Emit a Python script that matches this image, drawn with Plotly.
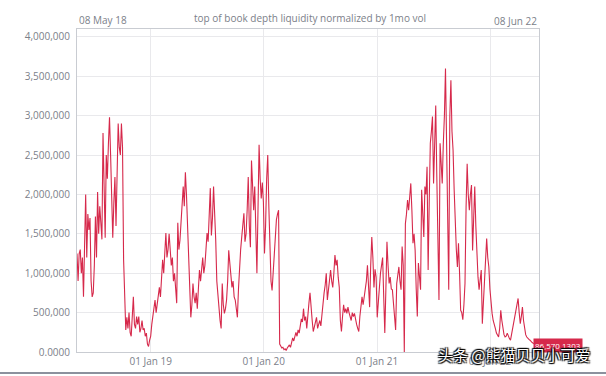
import pandas as pd
import plotly.graph_objects as go

# half-weekly samples (every 3.5 days) starting 2018-05-08
start_date = "2018-05-08"
step = "84h"

vals_2018 = [1250000, 900000, 1250000, 1300000, 1000000, 1200000, 700000, 1500000, 2000000, 1200000,
             1750000, 1550000, 1700000, 900000, 700000, 750000, 1100000, 1720000, 1200000, 2030000,
             1500000, 1850000, 1600000, 1430000, 2780000, 1900000, 1450000, 2500000, 2200000, 2650000,
             2980000, 2500000, 2100000, 1450000, 1900000, 2220000, 1600000, 2400000, 2900000, 2600000,
             2500000, 2900000, 2600000, 1170000, 700000, 280000, 440000, 300000, 500000, 250000,
             200000, 450000, 700000, 350000, 300000, 450000, 350000, 450000, 250000, 300000,
             400000, 280000, 300000, 200000, 240000, 100000, 70000, 150000]
vals_2019 = [200000, 350000, 450000, 550000, 660000, 500000, 600000, 750000, 820000, 700000,
             950000, 1170000, 1000000, 1300000, 1510000, 1200000, 1300000, 1500000, 1350000, 1100000,
             1200000, 900000, 1000000, 750000, 620000, 1640000, 1300000, 1420000, 1700000, 1900000,
             2100000, 1850000, 2280000, 2000000, 1600000, 1100000, 660000, 440000, 600000, 870000,
             700000, 620000, 750000, 550000, 800000, 1040000, 900000, 1100000, 1200000, 1000000,
             1100000, 1300000, 1510000, 1400000, 1700000, 2080000, 1480000, 1700000, 2100000, 1800000,
             1420000, 900000, 700000, 490000, 400000, 300000, 870000, 600000, 490000, 550000,
             660000, 900000, 1290000, 1130000, 1000000, 820000, 900000, 700000, 660000, 500000,
             440000, 800000, 1100000, 1300000, 1460000, 1600000, 1760000, 1400000, 1500000, 1800000,
             2220000, 1600000, 1330000, 2430000, 2000000, 1800000, 2100000, 1500000, 1000000, 1800000,
             2630000, 2200000, 1950000, 2150000, 1900000]
vals_2020 = [1250000, 1600000, 2200000, 2500000, 1850000, 1300000, 900000, 780000, 1000000, 1250000,
             1500000, 1680000, 1750000, 1800000, 100000, 70000, 50000, 60000, 30000, 40000,
             20000, 50000, 70000, 90000, 60000, 120000, 180000, 140000, 220000, 250000,
             200000, 280000, 240000, 320000, 420000, 380000, 550000, 400000, 450000, 300000,
             500000, 620000, 750000, 500000, 400000, 260000, 350000, 380000, 440000, 300000,
             350000, 400000, 330000, 500000, 600000, 750000, 850000, 1000000, 660000, 800000,
             900000, 1040000, 900000, 820000, 1000000, 1230000, 1100000, 1170000, 950000, 820000,
             400000, 260000, 450000, 600000, 500000, 550000, 490000, 570000, 500000, 450000,
             400000, 500000, 450000, 490000, 400000, 350000, 300000, 260000, 450000, 600000,
             700000, 600000, 700000, 800000, 900000, 1100000, 800000, 570000, 1100000, 1460000,
             1200000, 820000, 1050000, 950000]
vals_2021 = [440000, 660000, 870000, 1000000, 1100000, 1200000, 700000, 240000, 800000, 1400000,
             1100000, 870000, 950000, 800000, 790000, 600000, 400000, 280000, 870000, 950000,
             1080000, 900000, 790000, 1340000, 1100000, 0, 1630000, 1750000, 1930000, 1800000,
             2060000, 2140000, 1800000, 1380000, 1500000, 1290000, 800000, 450000, 1130000, 900000,
             790000, 2060000, 1700000, 1460000, 2100000, 2000000, 2350000, 1040000, 1900000, 2650000,
             2800000, 2990000, 2140000, 2800000, 3130000, 2220000, 1500000, 660000, 2650000, 2400000,
             2140000, 2650000, 3000000, 3600000, 2560000, 1500000, 790000, 2990000, 3450000, 2800000,
             2560000, 2060000, 1500000, 1300000, 1080000, 1380000, 1000000, 530000, 500000, 410000,
             600000, 870000, 1840000, 2390000, 2000000, 1800000, 2000000, 2120000, 1290000, 1700000,
             2100000, 1600000, 1210000, 950000, 790000, 900000, 1040000, 360000, 600000, 870000,
             1100000, 1440000, 1200000, 1080000, 800000]
vals_2022 = [600000, 490000, 400000, 360000, 300000, 240000, 220000, 190000, 300000, 530000,
             400000, 280000, 220000, 190000, 200000, 240000, 200000, 170000, 150000, 220000,
             320000, 380000, 450000, 500000, 600000, 680000, 500000, 360000, 450000, 570000,
             400000, 280000, 220000, 190000, 170000, 160000, 150000, 130000, 120000, 110000,
             100000, 95000, 90000, 88000, 86570.1303]

tick_dates = ["2019-01-01", "2020-01-01", "2021-01-01", "2022-01-01"]
tick_text_x = ["01 Jan 19", "01 Jan 20", "01 Jan 21", "01 Jan 22"]
y_ticks = [0, 500000, 1000000, 1500000, 2000000, 2500000, 3000000, 3500000, 4000000]
y_tick_text = ["0.0000", "500,000", "1,000,000", "1,500,000", "2,000,000",
               "2,500,000", "3,000,000", "3,500,000", "4,000,000"]

values = vals_2018 + vals_2019 + vals_2020 + vals_2021 + vals_2022
dates = pd.date_range(start_date, periods=len(values), freq=step)

RED = "#d6294b"
GRAY_TXT = "#7b8089"
FONT = "Open Sans"

fig = go.Figure()
fig.add_trace(go.Scatter(x=dates, y=values, mode="lines",
                         line=dict(color=RED, width=1.1), hoverinfo="skip"))

fig.update_layout(
    width=606, height=376,
    margin=dict(l=77, r=67, t=29, b=24),
    paper_bgcolor="white", plot_bgcolor="white",
    showlegend=False,
    font=dict(family=FONT, size=10, color=GRAY_TXT),
)
fig.update_xaxes(
    type="date", range=["2018-05-08", "2022-06-08"],
    tickvals=tick_dates, ticktext=tick_text_x,
    showgrid=True, gridcolor="#e9e9ec", gridwidth=1,
    showline=True, mirror=True, linecolor="#c9ccd2", linewidth=1,
    ticks="", tickfont=dict(size=10, color=GRAY_TXT), zeroline=False,
    automargin=False,
)
fig.update_yaxes(
    range=[0, 4100000],
    tickvals=y_ticks, ticktext=y_tick_text,
    showgrid=True, gridcolor="#e9e9ec", gridwidth=1,
    showline=True, mirror=True, linecolor="#c9ccd2", linewidth=1,
    ticks="", tickfont=dict(size=10, color=GRAY_TXT), zeroline=False,
    ticklabelstandoff=4, automargin=False,
)

fig.add_annotation(text="08 May 18", xref="paper", yref="paper", x=0, y=1.028,
                   xanchor="left", yanchor="middle", showarrow=False,
                   font=dict(size=10, color=GRAY_TXT, family=FONT))
fig.add_annotation(text="top of book depth liquidity normalized by 1mo vol",
                   xref="paper", yref="paper", x=0.504, y=1.034,
                   xanchor="center", yanchor="middle", showarrow=False,
                   font=dict(size=10, color=GRAY_TXT, family=FONT))
fig.add_annotation(text="08 Jun 22", xref="paper", yref="paper", x=1, y=1.025,
                   xanchor="right", yanchor="middle", showarrow=False,
                   font=dict(size=10, color=GRAY_TXT, family=FONT))
fig.add_annotation(text=f"{values[-1]:,.4f}", xref="paper", yref="y",
                   x=0.987, y=values[-1], xanchor="left", yanchor="middle",
                   showarrow=False, bgcolor=RED, borderpad=1,
                   font=dict(size=8, color="white", family=FONT))
fig.add_annotation(text="头条 @熊猫贝贝小可爱", xref="paper", yref="paper",
                   x=0.946, y=-0.008, xanchor="center", yanchor="middle",
                   showarrow=False,
                   font=dict(size=15, color="white", family="Noto Sans CJK SC",
                             shadow="1px 1px 1px #000, -1px -1px 1px #000, 1px -1px 1px #000, -1px 1px 1px #000"))

fig.add_shape(type="line", xref="paper", yref="paper",
              x0=-0.17, x1=1.15, y0=-0.065, y1=-0.065,
              line=dict(color="#8c919d", width=2))

fig.write_html("out.html", config={"displayModeBar": False},
               post_script="document.body.style.margin='0';")
